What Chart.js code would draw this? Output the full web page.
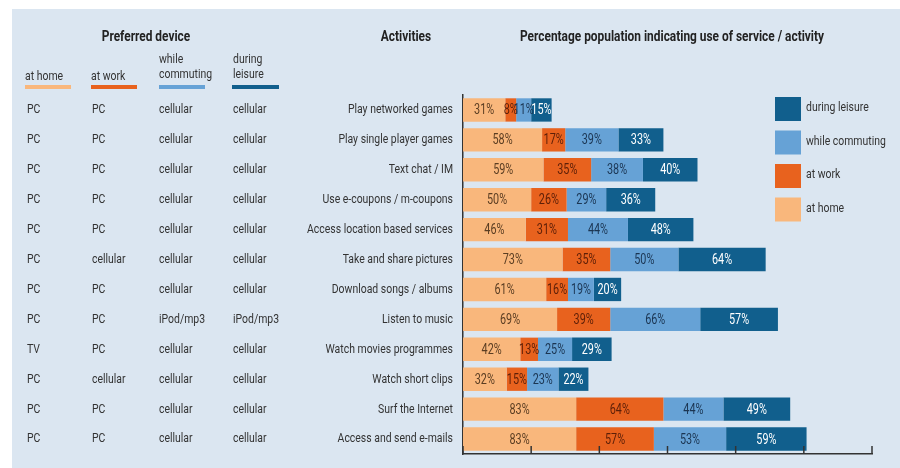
<!DOCTYPE html>
<html>
<head>
<meta charset="utf-8">
<script src="https://cdn.jsdelivr.net/npm/chart.js@4.4.1/dist/chart.umd.min.js"></script>
<style>
  body { margin: 0; background: #ffffff; }
  #panel { position: absolute; left: 12px; top: 9px; width: 888px; height: 459px; background: #dbe6f1; }
  #wrap { position: absolute; left: 0; top: 0; width: 900px; height: 468px; }
</style>
</head>
<body>
<div id="panel"></div>
<div id="wrap"><canvas id="myChart"></canvas></div>
<script>
const activities = [
  "Play networked games", "Play single player games", "Text chat / IM",
  "Use e-coupons / m-coupons", "Access location based services", "Take and share pictures",
  "Download songs / albums", "Listen to music", "Watch movies programmes",
  "Watch short clips", "Surf the Internet", "Access and send e-mails"
];
const atHome = [31, 58, 59, 50, 46, 73, 61, 69, 42, 32, 83, 83];
const atWork = [8, 17, 35, 26, 31, 35, 16, 39, 13, 15, 64, 57];
const whileCommuting = [11, 39, 38, 29, 44, 50, 19, 66, 25, 23, 44, 53];
const duringLeisure = [15, 33, 40, 36, 48, 64, 20, 57, 29, 22, 49, 59];

const deviceHome = ["PC", "PC", "PC", "PC", "PC", "PC", "PC", "PC", "TV", "PC", "PC", "PC"];
const deviceWork = ["PC", "PC", "PC", "PC", "PC", "cellular", "PC", "PC", "PC", "cellular", "PC", "PC"];
const deviceCommute = ["cellular", "cellular", "cellular", "cellular", "cellular", "cellular", "cellular", "iPod/mp3", "cellular", "cellular", "cellular", "cellular"];
const deviceLeisure = ["cellular", "cellular", "cellular", "cellular", "cellular", "cellular", "cellular", "iPod/mp3", "cellular", "cellular", "cellular", "cellular"];

const xTicks = [0, 50, 100, 150, 200, 250, 300];

const colors = ["#f9b77c", "#e8621e", "#66a2d6", "#115f8d"];
const labelColors = ["#5a3d22", "#5c1f08", "#1b3552", "#ffffff"];
const seriesNames = ["at home", "at work", "while commuting", "during leisure"];

const FAM = "Roboto, 'Liberation Sans', sans-serif";
const TITLE = "Percentage population indicating use of service / activity";
const F_TEXT = "13.5px " + FAM;
const F_LABEL = "14px " + FAM;
const F_BOLD = "bold 14px " + FAM;

// squeeze the text sideways so it looks like the condensed face of the original
const measure = document.createElement("canvas").getContext("2d");
measure.font = F_TEXT;
const sx = 146 / measure.measureText("Access location based services").width;
measure.font = F_BOLD;
const sxBold = 304 / measure.measureText(TITLE).width;

function txt(ctx, s, x, y, align, k) {
  ctx.save();
  ctx.translate(x, y);
  ctx.scale(k, 1);
  ctx.textAlign = align;
  ctx.fillText(s, 0, 0);
  ctx.restore();
}

// table on the left, headers, legend, bar labels, inward ticks
const tablePlugin = {
  id: "tablePlugin",
  afterDatasetsDraw(chart) {
    const ctx = chart.ctx;
    ctx.save();
    ctx.font = F_LABEL;
    ctx.textBaseline = "middle";
    chart.data.datasets.forEach((ds, i) => {
      const meta = chart.getDatasetMeta(i);
      ctx.fillStyle = labelColors[i];
      meta.data.forEach((bar, j) => {
        const cx = (bar.x + bar.base) / 2;
        txt(ctx, ds.data[j] + "%", cx, bar.y + 1, "center", sx);
      });
    });
    ctx.restore();
  },
  afterDraw(chart) {
    const ctx = chart.ctx;
    const y = chart.scales.y;
    const x = chart.scales.x;
    const area = chart.chartArea;
    ctx.save();

    // device table + activity names
    const cols = [27, 92, 159, 233];
    const lists = [deviceHome, deviceWork, deviceCommute, deviceLeisure];
    ctx.font = F_TEXT;
    ctx.fillStyle = "#333333";
    ctx.textBaseline = "middle";
    activities.forEach((a, i) => {
      const py = y.getPixelForValue(i);
      lists.forEach((l, c) => txt(ctx, l[i], cols[c], py, "left", sx));
      txt(ctx, a, 453, py, "right", sx);
    });

    // column headers
    txt(ctx, "at home", 25, 77, "left", sx);
    txt(ctx, "at work", 91, 77, "left", sx);
    txt(ctx, "while", 159, 60, "left", sx);
    txt(ctx, "commuting", 159, 75, "left", sx);
    txt(ctx, "during", 233, 60, "left", sx);
    txt(ctx, "leisure", 233, 75, "left", sx);
    const ulW = [46, 46, 46, 47];
    [25, 91, 159, 232].forEach((ux, c) => {
      ctx.fillStyle = colors[c];
      ctx.fillRect(ux, 85, ulW[c], 4);
    });

    // top headers
    ctx.fillStyle = "#222222";
    ctx.font = F_BOLD;
    txt(ctx, "Preferred device", 146, 37, "center", sxBold);
    txt(ctx, "Activities", 406, 37, "center", sxBold);
    txt(ctx, TITLE, 672, 37, "center", sxBold);

    // legend (reversed order)
    ctx.font = F_TEXT;
    for (let k = 0; k < 4; k++) {
      const s = 3 - k;
      const top = 97 + k * 33.5;
      ctx.fillStyle = colors[s];
      ctx.fillRect(775, top, 26, 24);
      ctx.fillStyle = "#333333";
      txt(ctx, seriesNames[s], 806, top + 11, "left", sx);
    }

    // ticks pointing up from the axis
    ctx.strokeStyle = "#333333";
    ctx.lineWidth = 1.5;
    xTicks.forEach((t) => {
      const px = x.getPixelForValue(t);
      ctx.beginPath();
      ctx.moveTo(px, area.bottom);
      ctx.lineTo(px, area.bottom - 8);
      ctx.stroke();
    });
    ctx.restore();
  }
};

const data = {
  labels: activities,
  datasets: [
    { label: "at home", data: atHome, backgroundColor: colors[0] },
    { label: "at work", data: atWork, backgroundColor: colors[1] },
    { label: "while commuting", data: whileCommuting, backgroundColor: colors[2] },
    { label: "during leisure", data: duringLeisure, backgroundColor: colors[3] }
  ]
};

const config = {
  type: "bar",
  data: data,
  options: {
    indexAxis: "y",
    responsive: true,
    maintainAspectRatio: false,
    animation: false,
    categoryPercentage: 0.78,
    barPercentage: 1,
    layout: { padding: { top: 95, right: 28, bottom: 6, left: 0 } },
    plugins: {
      legend: { display: false },
      tooltip: { enabled: false }
    },
    scales: {
      x: {
        stacked: true,
        min: 0,
        max: 300,
        afterBuildTicks: (scale) => {
          scale.ticks = xTicks.map((v) => ({ value: v }));
        },
        ticks: { display: false },
        grid: { display: false },
        border: { display: true, color: "#333333", width: 1.5 }
      },
      y: {
        stacked: true,
        afterFit: (scale) => { scale.width = 463; },
        ticks: { display: false },
        grid: { display: false },
        border: { display: true, color: "#333333", width: 1.5 }
      }
    }
  },
  plugins: [tablePlugin]
};

const ctx = document.getElementById("myChart");
const myChart = new Chart(ctx.getContext("2d"), config);
</script>
</body>
</html>
